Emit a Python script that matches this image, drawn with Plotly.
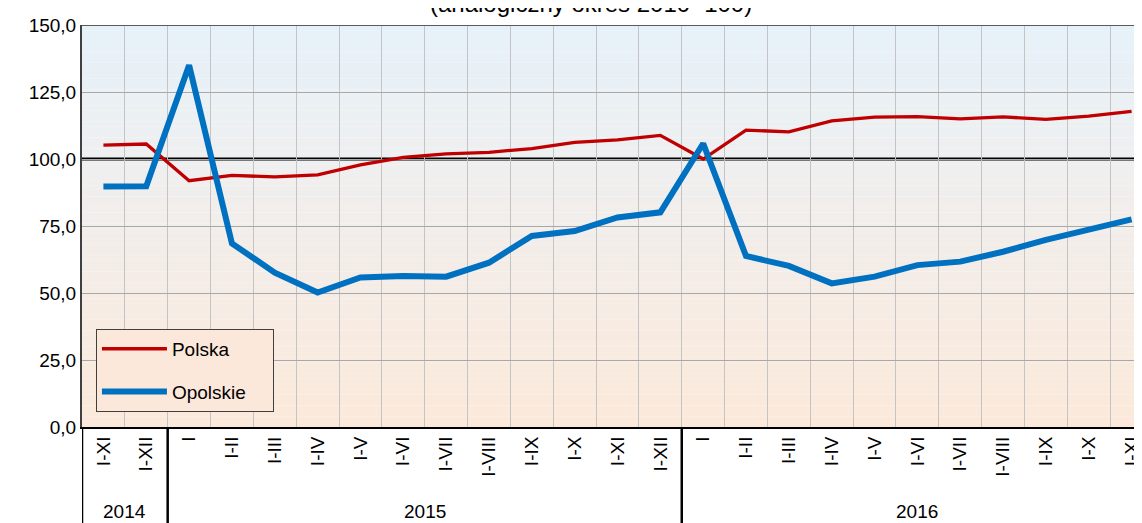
import plotly.graph_objects as go

# ---- data ----
categories = ["I-XI", "I-XII",
              "I", "I-II", "I-III", "I-IV", "I-V", "I-VI", "I-VII", "I-VIII", "I-IX", "I-X", "I-XI", "I-XII",
              "I", "I-II", "I-III", "I-IV", "I-V", "I-VI", "I-VII", "I-VIII", "I-IX", "I-X", "I-XI"]
years = ["2014", "2015", "2016"]
year_counts = [2, 12, 11]

polska = [105.2, 105.6, 91.9, 93.9, 93.3, 94.1, 97.8, 100.6, 101.9, 102.5, 103.9, 106.2, 107.1,
          108.8, 100.0, 110.8, 110.1, 114.2, 115.6, 115.8, 115.0, 115.7, 114.8, 116.0, 117.8]
opolskie = [89.7, 89.8, 135.0, 68.5, 57.6, 50.2, 55.8, 56.3, 56.1, 61.3, 71.3, 73.1, 78.2,
            80.1, 105.8, 63.8, 60.1, 53.6, 56.1, 60.4, 61.7, 65.4, 69.8, 73.5, 77.5]

y_ticks = [0, 25, 50, 75, 100, 125, 150]
y_ticktext = ["0,0", "25,0", "50,0", "75,0", "100,0", "125,0", "150,0"]
title_text = "(analogiczny okres 2010=100)"

x = list(range(len(categories)))
FONT = "Liberation Sans, Arial, sans-serif"
PAD = "\u00a0" * 4

fig = go.Figure()
fig.add_trace(go.Scatter(x=x, y=polska, mode="lines", name="Polska" + PAD,
                         line=dict(color="#C00000", width=3.3), legendgroup="a"))
fig.add_trace(go.Scatter(x=x, y=opolskie, mode="lines", name="Opolskie" + PAD,
                         line=dict(color="#0070C0", width=6), legendgroup="b"))

shapes = []
# gradient background strips
def lerp(c1, c2, t):
    return tuple(round(a + (b - a) * t) for a, b in zip(c1, c2))
top = (229, 241, 249)
mid = (239, 239, 239)
bot = (252, 233, 218)
mid_v = 95.0
n = 75
for i in range(n):
    y0 = 150 * i / n
    y1 = 150 * (i + 1) / n
    yc = (y0 + y1) / 2
    if yc >= mid_v:
        c = lerp(mid, top, (yc - mid_v) / (150 - mid_v))
    else:
        c = lerp(bot, mid, yc / mid_v)
    shapes.append(dict(type="rect", xref="paper", yref="y", x0=0, x1=1, y0=y0, y1=y1 + 0.05,
                       fillcolor="rgb(%d,%d,%d)" % c, line=dict(width=0), layer="below"))
# reference line at 100
shapes.append(dict(type="line", xref="paper", yref="y", x0=0, x1=1, y0=100, y1=100,
                   line=dict(color="black", width=3), layer="between"))
# top border
shapes.append(dict(type="line", xref="paper", yref="y", x0=0, x1=1, y0=150, y1=150,
                   line=dict(color="#5A5A5A", width=2), layer="above"))
# year separators below axis
bounds = [-0.5]
acc = -0.5
for cnt in year_counts:
    acc += cnt
    bounds.append(acc)
for b in bounds[:-1]:
    shapes.append(dict(type="line", xref="x", yref="paper", x0=b, x1=b, y0=0, y1=-0.25,
                       line=dict(color="black", width=2.5), layer="above"))

annotations = []
for yr, b0, b1 in zip(years, bounds[:-1], bounds[1:]):
    annotations.append(dict(text=yr, x=(b0 + b1) / 2, xref="x", y=-0.211, yref="paper",
                            showarrow=False, font=dict(size=19, color="black", family=FONT),
                            xanchor="center", yanchor="middle"))
annotations.append(dict(text=title_text, x=0.482, xref="paper", y=1.053, yref="paper",
                        showarrow=False, font=dict(size=24, color="black", family=FONT),
                        xanchor="center", yanchor="middle"))

fig.update_layout(
    width=1134, height=515,
    margin=dict(l=74, r=0, t=17, b=96),
    paper_bgcolor="white", plot_bgcolor="white",
    font=dict(family=FONT, color="black"),
    showlegend=True,
    legend=dict(x=0.0132, y=0.244, xanchor="left", yanchor="top",
                bgcolor="#FCE8DA", bordercolor="#404040", borderwidth=1,
                font=dict(size=19, family=FONT), tracegroupgap=15,
                itemwidth=65),
    shapes=shapes, annotations=annotations,
)
fig.update_xaxes(range=[-0.5, 24.15], tickmode="array", tickvals=x, ticktext=categories,
                 tickangle=-90, tickfont=dict(size=19, family=FONT, color="black"),
                 ticklabeloverflow="allow",
                 showgrid=False, zeroline=False, ticks="",
                 showline=True, linecolor="black", linewidth=2,
                 minor=dict(tick0=-0.5, dtick=1, showgrid=True, gridcolor="#C4C4C4", gridwidth=1, ticks=""))
fig.update_yaxes(range=[0, 150], tickmode="array", tickvals=y_ticks, ticktext=y_ticktext,
                 tickfont=dict(size=19, family=FONT, color="black"),
                 showgrid=True, gridcolor="#A8A8A8", gridwidth=1, zeroline=False,
                 showline=True, linecolor="#404040", linewidth=2, ticks="")

fig.write_html("out.html")
